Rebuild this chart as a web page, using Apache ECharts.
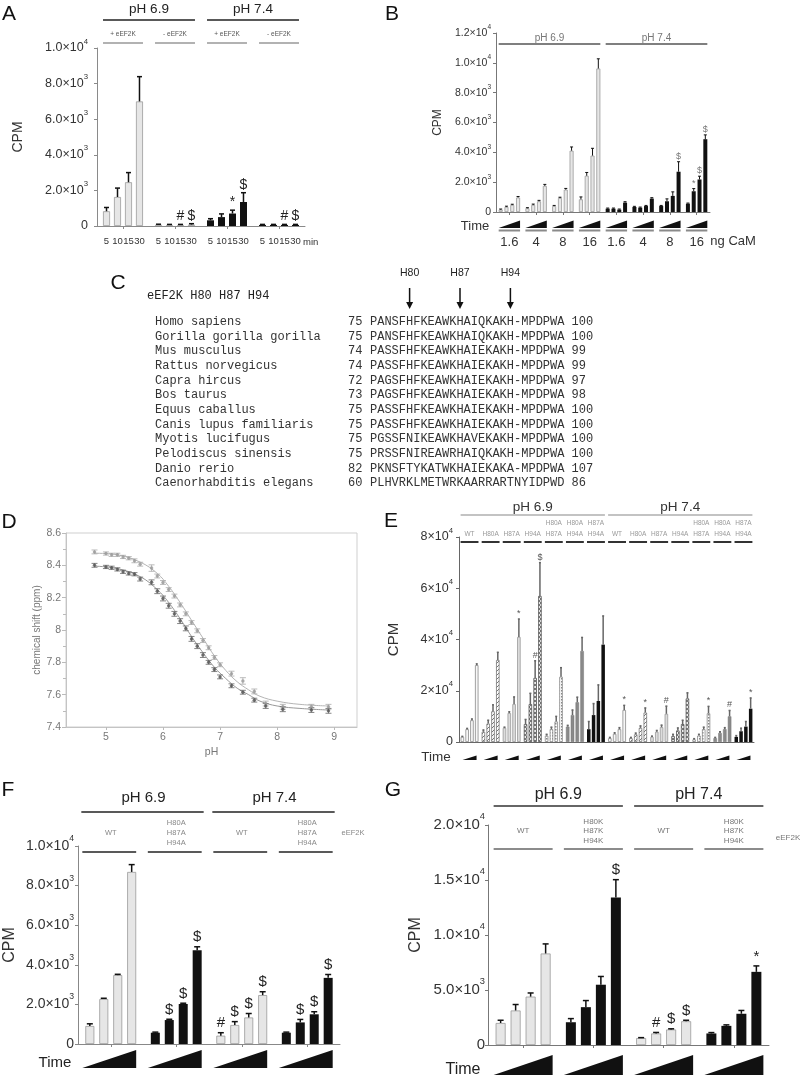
<!DOCTYPE html>
<html><head><meta charset="utf-8">
<script src="https://cdn.jsdelivr.net/npm/echarts@6.0.0/dist/echarts.min.js"></script>
<style>html,body{margin:0;padding:0;background:#fff}#c{width:800px;height:1076px}</style>
</head><body><div id="c"></div>
<script>
// ================= DATA =================
// Panel A
const A_ph = ['pH 6.9', 'pH 7.4'];
const A_groups = ['+ eEF2K', '- eEF2K', '+ eEF2K', '- eEF2K'];
const A_times = ['5', '10', '15', '30'];
const A_mean = [[830, 1630, 2460, 7000], [70, 60, 60, 80], [320, 500, 700, 1350], [60, 60, 60, 60]];
const A_sd = [[210, 500, 540, 1390], [30, 30, 30, 50], [90, 180, 190, 520], [30, 30, 30, 30]];
const A_marks = [['', '', '', ''], ['', '', '#', '$'], ['', '', '*', '$'], ['', '', '#', '$']];

// Panel B
const B_ph = ['pH 6.9', 'pH 7.4'];
const B_cam = ['1.6', '4', '8', '16', '1.6', '4', '8', '16'];
const B_mean = [[160, 340, 470, 970], [250, 470, 720, 1750], [400, 940, 1500, 4110], [850, 2430, 3780, 9620],
                [225, 225, 160, 630], [340, 290, 400, 900], [400, 720, 1080, 2700], [560, 1390, 2180, 4880]];
const B_sd = [[40, 50, 50, 70], [40, 60, 60, 100], [40, 50, 80, 250], [160, 220, 490, 650],
              [40, 40, 40, 60], [40, 40, 40, 60], [40, 160, 270, 670], [40, 180, 220, 290]];
const B_marks = [['', '', '', ''], ['', '', '', ''], ['', '', '', ''], ['', '', '', ''],
                 ['', '', '', ''], ['', '', '', ''], ['', '', '', '$'], ['', '*', '$', '$']];

// Panel C
const C_header = 'eEF2K H80 H87 H94';
const C_species = ['Homo sapiens', 'Gorilla gorilla gorilla', 'Mus musculus', 'Rattus norvegicus', 'Capra hircus',
  'Bos taurus', 'Equus caballus', 'Canis lupus familiaris', 'Myotis lucifugus', 'Pelodiscus sinensis',
  'Danio rerio', 'Caenorhabditis elegans'];
const C_start = [75, 75, 74, 74, 72, 73, 75, 75, 75, 75, 82, 60];
const C_seq = ['PANSFHFKEAWKHAIQKAKH-MPDPWA', 'PANSFHFKEAWKHAIQKAKH-MPDPWA', 'PASSFHFKEAWKHAIEKAKH-MPDPWA',
  'PASSFHFKEAWKHAIEKAKH-MPDPWA', 'PAGSFHFKEAWKHAIEKAKH-MPDPWA', 'PAGSFHFKEAWKHAIEKAKH-MPDPWA',
  'PASSFHFKEAWKHAIEKAKH-MPDPWA', 'PASSFHFKEAWKHAIEKAKH-MPDPWA', 'PGSSFNIKEAWKHAVEKAKH-MPDPWA',
  'PRSSFNIREAWRHAIQKAKH-MPDPWA', 'PKNSFTYKATWKHAIEKAKA-MPDPWA', 'PLHVRKLMETWRKAARRARTNYIDPWD'];
const C_end = [100, 100, 99, 99, 97, 98, 100, 100, 100, 100, 107, 86];
const C_sites = ['H80', 'H87', 'H94'];

// Panel D
const D_pH = [4.8, 5.0, 5.1, 5.2, 5.3, 5.4, 5.5, 5.6, 5.8, 5.9, 6.0, 6.1, 6.2, 6.3, 6.4, 6.5, 6.6, 6.7, 6.8, 6.9, 7.0, 7.2, 7.4, 7.6, 7.8, 8.1, 8.6, 8.9];
const D_up = [8.483, 8.473, 8.465, 8.465, 8.452, 8.444, 8.428, 8.407, 8.383, 8.334, 8.294, 8.25, 8.21, 8.155, 8.10, 8.046, 7.995, 7.935, 7.89, 7.83, 7.785, 7.73, 7.685, 7.62, 7.545, 7.525, 7.525, 7.525];
const D_upErr = [0.012, 0.01, 0.01, 0.01, 0.01, 0.01, 0.012, 0.012, 0.02, 0.012, 0.012, 0.012, 0.012, 0.012, 0.012, 0.012, 0.012, 0.012, 0.012, 0.012, 0.012, 0.015, 0.02, 0.015, 0.015, 0.015, 0.015, 0.015];
const D_low = [8.40, 8.39, 8.385, 8.375, 8.36, 8.35, 8.345, 8.315, 8.295, 8.24, 8.195, 8.15, 8.10, 8.055, 8.01, 7.945, 7.90, 7.845, 7.80, 7.755, 7.71, 7.655, 7.615, 7.566, 7.53, 7.51, 7.505, 7.50];
const D_lowErr = [0.012, 0.01, 0.01, 0.01, 0.01, 0.01, 0.01, 0.012, 0.015, 0.015, 0.015, 0.015, 0.015, 0.015, 0.015, 0.015, 0.015, 0.015, 0.012, 0.012, 0.012, 0.012, 0.012, 0.012, 0.015, 0.015, 0.015, 0.015];
const D_fitPH = [4.8, 5.2, 5.6, 5.9, 6.1, 6.3, 6.5, 6.7, 6.9, 7.1, 7.3, 7.5, 7.7, 8.0, 8.4, 8.9];
const D_fitUp = [8.475, 8.465, 8.42, 8.35, 8.27, 8.17, 8.06, 7.95, 7.84, 7.75, 7.68, 7.63, 7.59, 7.56, 7.54, 7.53];
const D_fitLow = [8.395, 8.38, 8.33, 8.25, 8.17, 8.07, 7.96, 7.86, 7.77, 7.70, 7.64, 7.60, 7.56, 7.53, 7.515, 7.505];

// Panel E
const E_ph = ['pH 6.9', 'pH 7.4'];
const E_mutants = ['WT', 'H80A', 'H87A', 'H94A', 'H80A\nH87A', 'H80A\nH94A', 'H87A\nH94A'];
const E_mean = [[2000, 5000, 8500, 30000], [4000, 7200, 12000, 32000], [5500, 11300, 14800, 41000], [7000, 14800, 25000, 57000],
  [2500, 5000, 8000, 25500], [6000, 10500, 15500, 35500], [5000, 10500, 16000, 38000],
  [1500, 3200, 5000, 12500], [1500, 3000, 5500, 11500], [2000, 4000, 5800, 11000], [2300, 4500, 7000, 17000],
  [1000, 2500, 5000, 11200], [1500, 3500, 5000, 10000], [2000, 4200, 6000, 13000]];
const E_sd = [[200, 300, 500, 500], [700, 1300, 2500, 3000], [300, 500, 2800, 7000], [1800, 4200, 6700, 13000],
  [500, 800, 2000, 3500], [500, 2000, 2000, 5300], [3000, 4500, 6300, 11200],
  [300, 400, 600, 1800], [300, 500, 800, 1800], [300, 500, 800, 3000], [700, 1000, 1500, 2200],
  [300, 500, 800, 2700], [300, 500, 600, 2300], [500, 1200, 2000, 4200]];
const E_marks = [['', '', '', ''], ['', '', '', ''], ['', '', '', '*'], ['', '', '#', '$'], ['', '', '', ''], ['', '', '', ''], ['', '', '', ''],
  ['', '', '', '*'], ['', '', '', '*'], ['', '', '', '#'], ['', '', '', ''], ['', '', '', '*'], ['', '', '', '#'], ['', '', '', '*']];

// Panel F
const F_ph = ['pH 6.9', 'pH 7.4'];
const F_groups = ['WT', 'H80A\nH87A\nH94A', 'WT', 'H80A\nH87A\nH94A'];
const F_mean = [[910, 2270, 3480, 8690], [570, 1210, 2020, 4740], [420, 960, 1340, 2470], [570, 1090, 1500, 3340]];
const F_sd = [[110, 40, 40, 370], [30, 40, 40, 170], [150, 170, 200, 170], [30, 150, 130, 170]];
const F_marks = [['', '', '', ''], ['', '$', '$', '$'], ['#', '$', '$', '$'], ['', '$', '$', '$']];

// Panel G
const G_ph = ['pH 6.9', 'pH 7.4'];
const G_groups = ['WT', 'H80K\nH87K\nH94K', 'WT', 'H80K\nH87K\nH94K'];
const G_mean = [[2000, 3140, 4400, 8320], [2070, 3440, 5480, 13410], [630, 1050, 1410, 2160], [1050, 1740, 2840, 6650]];
const G_sd = [[250, 540, 330, 870], [330, 600, 750, 1620], [40, 90, 60, 90], [80, 90, 300, 540]];
const G_marks = [['', '', '', ''], ['', '', '', '$'], ['', '#', '$', '$'], ['', '', '', '*']];

// ================= RENDER =================
const FONT = '"Liberation Sans", Arial, Helvetica, sans-serif';
const MONO = '"Liberation Mono", "DejaVu Sans Mono", monospace';

function sciFmt(dec) {
  return function (v) {
    if (v === 0) return '0';
    const e = Math.floor(Math.log10(v) + 1e-9);
    const m = v / Math.pow(10, e);
    return m.toFixed(dec) + '×10{s|' + e + '}';
  };
}

function makePattern(size, draw) {
  const c = document.createElement('canvas');
  c.width = size; c.height = size;
  draw(c.getContext('2d'), size);
  return { image: c, repeat: 'repeat' };
}

const LIGHT = { color: '#e6e6e6', borderColor: '#9a9a9a', borderWidth: 0.8 };
const BLACK = { color: '#111', borderColor: '#111', borderWidth: 0 };
const E_styles = [
  { color: '#f7f7f7', borderColor: '#8a8a8a', borderWidth: 0.8 },
  { color: makePattern(4, (g, s) => { g.fillStyle = '#fff'; g.fillRect(0, 0, s, s); g.strokeStyle = '#777'; g.lineWidth = 1; g.beginPath(); g.moveTo(0, s); g.lineTo(s, 0); g.stroke(); }), borderColor: '#777', borderWidth: 0.8 },
  { color: '#dcdcdc', borderColor: '#999', borderWidth: 0.8 },
  { color: makePattern(4, (g, s) => { g.fillStyle = '#777'; g.fillRect(0, 0, s, s); g.fillStyle = '#eee'; g.fillRect(0, 0, 2, 2); g.fillRect(2, 2, 2, 2); }), borderColor: '#555', borderWidth: 0.8 },
  { color: makePattern(3, (g, s) => { g.fillStyle = '#fff'; g.fillRect(0, 0, s, s); g.fillStyle = '#888'; g.fillRect(0, 0, 1.5, 1.5); }), borderColor: '#888', borderWidth: 0.8 },
  { color: '#8a8a8a', borderColor: '#777', borderWidth: 0.5 },
  { color: '#111', borderColor: '#111', borderWidth: 0 }
];

const option = {
  animation: false, backgroundColor: '#fff',
  textStyle: { fontFamily: FONT },
  grid: [], xAxis: [], yAxis: [], series: []
};

function addBarPanel(p) {
  const gi = option.grid.length;
  p.gi = gi;
  option.grid.push({ left: p.left, top: p.top, width: p.width, height: p.height, containLabel: false, outerBoundsMode: 'none' });
  option.xAxis.push({
    type: 'category', gridIndex: gi, data: p.cats,
    axisLine: { show: true, lineStyle: { color: p.axisColor, width: 1 } },
    axisTick: { show: p.xTick !== false, alignWithLabel: true, length: 3, lineStyle: { color: p.axisColor } },
    axisLabel: p.xLabel || { show: false },
    splitLine: { show: false }
  });
  option.yAxis.push({
    type: 'value', gridIndex: gi, min: 0, max: p.yMax, interval: p.yInt,
    axisLine: { show: true, lineStyle: { color: p.axisColor, width: 1 } },
    axisTick: { show: true, length: 3, lineStyle: { color: p.axisColor } },
    splitLine: { show: false },
    axisLabel: {
      formatter: p.yFmt, fontSize: p.yFont, color: '#333', margin: p.yMargin, fontFamily: FONT,
      lineHeight: p.yFont * 1.7,
      rich: { s: { fontSize: p.yFont * 0.62, lineHeight: p.yFont * 0.62, verticalAlign: 'top', color: '#333', fontFamily: FONT } }
    },
    name: 'CPM', nameLocation: 'middle', nameGap: p.nameGap,
    nameTextStyle: { fontSize: p.nameFont, color: '#333', fontFamily: FONT }
  });
  const w = p.barWidth, g = w * p.gapPct / 100;
  p.pitch = w + g; p.total = 4 * w + 3 * g;
  for (let t = 0; t < 4; t++) {
    option.series.push({
      type: 'bar', xAxisIndex: gi, yAxisIndex: gi, barWidth: w, barGap: p.gapPct + '%', silent: true,
      data: p.mean.map((grp, k) => ({ value: grp[t], itemStyle: p.style(k) }))
    });
  }
  const err = [];
  p.mean.forEach((grp, k) => grp.forEach((m, t) => err.push([k, m, t, p.sd[k][t]])));
  option.series.push({
    type: 'custom', xAxisIndex: gi, yAxisIndex: gi, z: 5, silent: true, data: err,
    encode: { x: 0, y: 1 },
    renderItem: function (params, api) {
      const k = api.value(0), m = api.value(1), t = api.value(2), sd = api.value(3);
      const base = api.coord([k, m]);
      const top = api.coord([k, m + sd]);
      const x = base[0] + (t - 1.5) * p.pitch;
      const ch = [
        { type: 'line', shape: { x1: x, y1: base[1], x2: x, y2: top[1] }, style: { stroke: p.errColor, lineWidth: p.errW } }
      ];
      if (p.capW) ch.push({ type: 'line', shape: { x1: x - p.capW / 2, y1: top[1], x2: x + p.capW / 2, y2: top[1] }, style: { stroke: p.errColor, lineWidth: p.errW } });
      const mk = p.marks[k][t];
      if (mk) ch.push({ type: 'text', style: { text: mk, x: x, y: top[1] - p.markGap, align: 'center', textAlign: 'center', verticalAlign: 'bottom', textVerticalAlign: 'bottom', fontSize: p.markFont, fontFamily: FONT, fill: p.markColor } });
      return { type: 'group', children: ch };
    }
  });
  return p;
}

const PA = addBarPanel({
  left: 97, top: 48, width: 208, height: 178, cats: A_groups, yMax: 10000, yInt: 2000, yFmt: sciFmt(1),
  yFont: 12.5, yMargin: 9, nameGap: 72, nameFont: 14, axisColor: '#8a8a8a',
  barWidth: 7, gapPct: 57, mean: A_mean, sd: A_sd, marks: A_marks, style: k => (k < 2 ? LIGHT : BLACK),
  errColor: '#111', errW: 1.5, capW: 5, markFont: 14, markGap: 1, markColor: '#222',
  xLabel: { show: true, interval: 0, margin: 10, formatter: () => A_times.map(t => '{a|' + t + '}').join(''),
    rich: { a: { width: 11, align: 'center', fontSize: 9.5, color: '#333', fontFamily: FONT } } }
});
const PB = addBarPanel({
  left: 496, top: 33, width: 214, height: 179, cats: B_cam, yMax: 12000, yInt: 2000, yFmt: sciFmt(1),
  yFont: 10.5, yMargin: 5, nameGap: 52, nameFont: 12, axisColor: '#777',
  barWidth: 4, gapPct: 45, mean: B_mean, sd: B_sd, marks: B_marks, style: k => (k < 4 ? LIGHT : BLACK),
  errColor: '#111', errW: 1, capW: 3, markFont: 9, markGap: 1, markColor: '#777',
  xLabel: { show: true, interval: 0, margin: 24, fontSize: 13, color: '#333', fontFamily: FONT }
});
const E_cats = [];
E_ph.forEach(ph => E_mutants.forEach(m => E_cats.push(ph + ' ' + m)));
const PE = addBarPanel({
  left: 459, top: 537, width: 295, height: 205, cats: E_cats, yMax: 80000, yInt: 20000, yFmt: sciFmt(0),
  yFont: 12.5, yMargin: 6, nameGap: 58, nameFont: 15, axisColor: '#666', xTick: false,
  barWidth: 3.5, gapPct: 37, mean: E_mean, sd: E_sd, marks: E_marks, style: k => E_styles[k % 7],
  errColor: '#666', errW: 1.5, capW: 2, markFont: 9, markGap: 1, markColor: '#555'
});
const PF = addBarPanel({
  left: 78, top: 846, width: 262, height: 198, cats: F_groups, yMax: 10000, yInt: 2000, yFmt: sciFmt(1),
  yFont: 14, yMargin: 4, nameGap: 60, nameFont: 16, axisColor: '#888',
  barWidth: 9, gapPct: 55, mean: F_mean, sd: F_sd, marks: F_marks, style: k => (k % 2 === 0 ? LIGHT : BLACK),
  errColor: '#111', errW: 1.5, capW: 6, markFont: 15, markGap: 2, markColor: '#222'
});
const PG = addBarPanel({
  left: 488, top: 825, width: 281, height: 220, cats: G_groups, yMax: 20000, yInt: 5000, yFmt: sciFmt(1),
  yFont: 15, yMargin: 3, nameGap: 64, nameFont: 16, axisColor: '#777',
  barWidth: 10, gapPct: 50, mean: G_mean, sd: G_sd, marks: G_marks, style: k => (k % 2 === 0 ? LIGHT : BLACK),
  errColor: '#111', errW: 1.5, capW: 6, markFont: 15, markGap: 2, markColor: '#222'
});

// Panel D (titration)
const DG = option.grid.length;
option.grid.push({ left: 66, top: 533, width: 291, height: 194, show: true, borderColor: '#cfcfcf', borderWidth: 1, containLabel: false, outerBoundsMode: 'none' });
option.xAxis.push({
  type: 'value', gridIndex: DG, min: 4.3, max: 9.4, splitNumber: 5,
  axisLine: { show: true, lineStyle: { color: '#c4c4c4' } },
  axisTick: { show: true, length: 3, lineStyle: { color: '#bbb' } },
  axisLabel: { fontSize: 10.5, color: '#777', margin: 5, showMinLabel: false, showMaxLabel: false, fontFamily: FONT },
  splitLine: { show: false },
  name: 'pH', nameLocation: 'middle', nameGap: 20, nameTextStyle: { fontSize: 10.5, color: '#777', fontFamily: FONT }
});
option.yAxis.push({
  type: 'value', gridIndex: DG, min: 7.4, max: 8.6, interval: 0.2,
  axisLine: { show: true, lineStyle: { color: '#c4c4c4' } },
  axisTick: { show: true, length: 4, lineStyle: { color: '#bbb' } },
  minorTick: { show: true, splitNumber: 2, length: 3, lineStyle: { color: '#bbb' } },
  axisLabel: { fontSize: 10.5, color: '#777', margin: 5, formatter: v => String(+v.toFixed(1)), fontFamily: FONT },
  splitLine: { show: false },
  name: 'chemical shift (ppm)', nameLocation: 'middle', nameGap: 24, nameTextStyle: { fontSize: 10, color: '#777', fontFamily: FONT }
});
function dErr(vals, errs, color) {
  return {
    type: 'custom', xAxisIndex: DG, yAxisIndex: DG, z: 4, silent: true,
    data: D_pH.map((x, i) => [x, vals[i], errs[i]]), encode: { x: 0, y: 1 },
    renderItem: function (params, api) {
      const x = api.value(0), y = api.value(1), e = api.value(2);
      const lo = api.coord([x, y - e]), hi = api.coord([x, y + e]);
      const st = { stroke: color, lineWidth: 0.8 };
      return { type: 'group', children: [
        { type: 'line', shape: { x1: lo[0], y1: lo[1], x2: hi[0], y2: hi[1] }, style: st },
        { type: 'line', shape: { x1: lo[0] - 3, y1: lo[1], x2: lo[0] + 3, y2: lo[1] }, style: st },
        { type: 'line', shape: { x1: hi[0] - 3, y1: hi[1], x2: hi[0] + 3, y2: hi[1] }, style: st }
      ] };
    }
  };
}
option.series.push(
  { type: 'line', xAxisIndex: DG, yAxisIndex: DG, smooth: 0.4, showSymbol: false, silent: true, data: D_fitPH.map((x, i) => [x, D_fitUp[i]]), lineStyle: { color: '#b5b5b5', width: 1 } },
  { type: 'line', xAxisIndex: DG, yAxisIndex: DG, smooth: 0.4, showSymbol: false, silent: true, data: D_fitPH.map((x, i) => [x, D_fitLow[i]]), lineStyle: { color: '#999', width: 1 } },
  dErr(D_up, D_upErr, '#aaa'), dErr(D_low, D_lowErr, '#666'),
  { type: 'scatter', xAxisIndex: DG, yAxisIndex: DG, symbol: 'circle', symbolSize: 3.5, silent: true, data: D_pH.map((x, i) => [x, D_up[i]]), itemStyle: { color: '#9a9a9a' }, z: 5 },
  { type: 'scatter', xAxisIndex: DG, yAxisIndex: DG, symbol: 'circle', symbolSize: 3.5, silent: true, data: D_pH.map((x, i) => [x, D_low[i]]), itemStyle: { color: '#555' }, z: 5 }
);

const chart = echarts.init(document.getElementById('c'), null, { renderer: 'canvas', width: 800, height: 1076 });
chart.setOption(option);

// ================= ANNOTATIONS =================
const gr = [];
function txt(x, y, s, o) {
  o = o || {};
  const al = o.align || 'center', va = o.va || 'middle';
  const st = { text: s, fill: o.color || '#222', fontSize: o.size || 10, fontFamily: o.font || FONT,
    align: al, textAlign: al, verticalAlign: va, textVerticalAlign: va };
  if (o.lh) st.lineHeight = o.lh;
  return { type: 'text', x: x, y: y, silent: true, style: st };
}
function seg(x1, y1, x2, y2, color, w) {
  return { type: 'line', silent: true, shape: { x1: x1, y1: y1, x2: x2, y2: y2 }, style: { stroke: color, lineWidth: w } };
}
function poly(pts, color) { return { type: 'polygon', silent: true, shape: { points: pts }, style: { fill: color } }; }
function cxOf(p, k) { return chart.convertToPixel({ xAxisIndex: p.gi }, k); }
function ext(p, k) { const c = cxOf(p, k); return [c - p.total / 2, c + p.total / 2]; }

// panel letters
[['A', 9, 14], ['B', 392, 14], ['C', 118, 283], ['D', 9, 522], ['E', 391, 521], ['F', 8, 790], ['G', 393, 790]]
  .forEach(l => gr.push(txt(l[1], l[2], l[0], { size: 21, color: '#111' })));

// --- A headers ---
A_ph.forEach((ph, j) => {
  const a = ext(PA, 2 * j), b = ext(PA, 2 * j + 1);
  gr.push(txt((a[0] + b[1]) / 2, 9, ph, { size: 13.5, color: '#222' }));
  gr.push(seg(a[0], 20, b[1], 20, '#222', 1.3));
});
A_groups.forEach((g, k) => {
  const e = ext(PA, k);
  gr.push(txt((e[0] + e[1]) / 2, 34, g, { size: 6.5, color: '#555' }));
  gr.push(seg(e[0], 43, e[1], 43, '#666', 1.2));
});
gr.push(txt(ext(PA, 3)[1] + 4, 242, 'min', { size: 9.5, color: '#333', align: 'left' }));

// --- B headers ---
B_ph.forEach((ph, j) => {
  const a = ext(PB, 4 * j), b = ext(PB, 4 * j + 3);
  gr.push(txt((a[0] + b[1]) / 2, 38, ph, { size: 10, color: '#777' }));
  gr.push(seg(a[0], 44, b[1], 44, '#555', 1.3));
});
gr.push(txt(475, 226, 'Time', { size: 13, color: '#333' }));
B_cam.forEach((c, k) => {
  const e = ext(PB, k);
  gr.push(poly([[e[0], 228], [e[1], 228], [e[1], 220.5]], '#111'));
  gr.push(seg(e[0], 230.5, e[1], 230.5, '#8a8a8a', 2));
});
gr.push(txt(ext(PB, 7)[1] + 3, 241, 'ng CaM', { size: 13, color: '#333', align: 'left' }));

// --- C alignment ---
const CW = 7.2, C_nameX = 155, C_numX = 348, C_seqX = 370, C_y0 = 322, C_dy = 14.64;
gr.push(txt(147, 296, C_header, { font: MONO, size: 12, color: '#222', align: 'left' }));
C_species.forEach((s, i) => {
  const y = C_y0 + i * C_dy;
  gr.push(txt(C_nameX, y, s, { font: MONO, size: 12, color: '#333', align: 'left' }));
  gr.push(txt(C_numX, y, String(C_start[i]), { font: MONO, size: 12, color: '#333', align: 'left' }));
  gr.push(txt(C_seqX, y, C_seq[i], { font: MONO, size: 12, color: '#333', align: 'left' }));
  gr.push(txt(C_seqX + (C_seq[i].length + 1) * CW, y, String(C_end[i]), { font: MONO, size: 12, color: '#333', align: 'left' }));
});
C_sites.forEach(s => {
  const idx = parseInt(s.slice(1), 10) - C_start[0];
  const x = C_seqX + (idx + 0.5) * CW;
  gr.push(txt(x, 273, s, { size: 10.5, color: '#222' }));
  gr.push(seg(x, 288, x, 303, '#111', 1.5));
  gr.push(poly([[x - 3.5, 302], [x + 3.5, 302], [x, 309]], '#111'));
});

// --- E headers ---
E_ph.forEach((ph, j) => {
  const a = ext(PE, 7 * j), b = ext(PE, 7 * j + 6);
  gr.push(txt((a[0] + b[1]) / 2, 507, ph, { size: 13.5, color: '#333' }));
  gr.push(seg(a[0], 515, b[1], 515, '#888', 1.2));
  E_mutants.forEach((m, i) => {
    const e = ext(PE, 7 * j + i);
    gr.push(txt((e[0] + e[1]) / 2, 539, m, { size: 6.5, color: '#999', va: 'bottom', lh: 10.5 }));
    gr.push(seg(e[0], 542, e[1], 542, '#333', 2));
  });
});
gr.push(txt(436, 757, 'Time', { size: 13.5, color: '#333' }));
E_cats.forEach((c, k) => {
  const m = cxOf(PE, k);
  gr.push(poly([[m - 7, 760], [m + 7, 760], [m + 7, 755.5]], '#111'));
});

// --- F headers ---
F_ph.forEach((ph, j) => {
  const a = ext(PF, 2 * j), b = ext(PF, 2 * j + 1);
  gr.push(txt((a[0] + b[1]) / 2, 798, ph, { size: 15, color: '#222' }));
  gr.push(seg(a[0] - 4, 812, b[1] + 2, 812, '#222', 1.5));
});
F_groups.forEach((g, k) => {
  const e = ext(PF, k);
  gr.push(txt((e[0] + e[1]) / 2, 833, g, { size: 7.5, color: '#888', lh: 10 }));
  gr.push(seg(e[0] - 3, 852, e[1], 852, '#222', 1.5));
});
gr.push(txt(353, 833, 'eEF2K', { size: 7.5, color: '#888' }));
gr.push(txt(55, 1063, 'Time', { size: 15, color: '#222' }));
F_groups.forEach((g, k) => {
  const e = ext(PF, k);
  gr.push(poly([[e[0] - 3, 1068], [e[1], 1068], [e[1], 1050]], '#111'));
});

// --- G headers ---
G_ph.forEach((ph, j) => {
  const a = ext(PG, 2 * j), b = ext(PG, 2 * j + 1);
  gr.push(txt((a[0] + b[1]) / 2, 795, ph, { size: 16, color: '#222' }));
  gr.push(seg(a[0] - 2, 806, b[1] + 2, 806, '#333', 1.5));
});
G_groups.forEach((g, k) => {
  const e = ext(PG, k);
  gr.push(txt((e[0] + e[1]) / 2, 831, g, { size: 8, color: '#777', lh: 9.5 }));
  gr.push(seg(e[0] - 2, 849, e[1] + 2, 849, '#666', 1.5));
});
gr.push(txt(788, 838, 'eEF2K', { size: 8, color: '#777' }));
gr.push(txt(463, 1070, 'Time', { size: 16, color: '#222' }));
G_groups.forEach((g, k) => {
  const e = ext(PG, k);
  gr.push(poly([[e[0] - 2, 1075], [e[1] + 2, 1075], [e[1] + 2, 1055]], '#111'));
});

chart.setOption({ graphic: gr });
</script>
</body></html>
